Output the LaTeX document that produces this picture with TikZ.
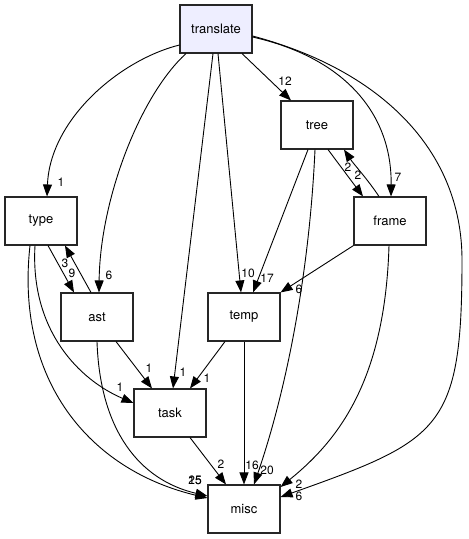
\documentclass[tikz,border=0pt]{standalone}
\usepackage{fontspec}
\setmainfont{TeX Gyre Heros}
\usetikzlibrary{arrows.meta,calc}
\definecolor{translatebg}{HTML}{EEEEFF}
\tikzset{
    dir/.style={draw=black!85,line width=1.1pt,minimum width=72pt,minimum height=48pt,inner sep=0pt,font=\fontsize{13}{15}\selectfont},
    dep/.style={line width=.9pt,-{Triangle[length=12pt,width=9pt]}},
    cnt/.style={inner sep=0pt,font=\fontsize{12}{14}\selectfont}
}
\begin{document}
\begin{tikzpicture}[x=1pt,y=-1pt]
    \useasboundingbox (0,0) rectangle (469,539);

    % directories
    \node[dir,fill=translatebg] (translate) at (216,29) {translate};
    \node[dir] (type) at (41,221) {type};
    \node[dir] (tree) at (317,125) {tree};
    \node[dir] (frame) at (390,221) {frame};
    \node[dir] (ast) at (97,317) {ast};
    \node[dir] (temp) at (244,317) {temp};
    \node[dir] (task) at (170,413) {task};
    \node[dir] (misc) at (244,509) {misc};

    % from translate
    \draw[dep] ($(translate.west)+(0,16)$) .. controls +(-60,15) and +(3,-77) .. ($(type.north)+(6,0)$);
    \draw[dep] ($(translate.south)+(-30,0)$) .. controls +(-46,42) and +(1,-93) .. ($(ast.north)+(2,0)$);
    \draw[dep] ($(translate.south)+(-3,0)$) -- ($(task.north)+(3,0)$);
    \draw[dep] ($(translate.south)+(2,0)$) -- ($(temp.north)+(-3,0)$);
    \draw[dep] ($(translate.south)+(26,0)$) -- ($(tree.north)+(-26,0)$);
    \draw[dep] ($(translate.east)+(0,8)$) .. controls +(93,21) and +(1,-82) .. ($(frame.north)+(1,0)$);
    \draw[dep] ($(translate.east)+(0,7)$) .. controls +(128,34) and +(0,-110) .. (462,260)
        .. controls +(0,170) and +(160,-57) .. ($(misc.east)+(0,-12)$);

    % from tree
    \draw[dep] ($(tree.south)+(-9,0)$) -- ($(temp.north)+(9,0)$);
    \draw[dep] ($(tree.south)+(-2,0)$) .. controls +(-5,111) and +(36,-105) .. ($(misc.north)+(10,0)$);
    \draw[dep] ($(tree.south)+(11,0)$) -- ($(frame.north)+(-27,0)$);

    % from frame
    \draw[dep] ($(frame.north)+(-11,0)$) .. controls +(-12,-18) and +(10,15) .. ($(tree.south)+(27,0)$);
    \draw[dep] (frame.south west) -- (temp.north east);
    \draw[dep] ($(frame.south)+(-1,0)$) .. controls +(-4,135) and +(58,-47) .. ($(misc.east)+(0,-22)$);

    % from type
    \draw[dep] ($(type.south)+(7,0)$) -- ($(ast.north)+(-23,0)$);
    \draw[dep] ($(type.south)+(-6,0)$) .. controls +(-5,85) and +(-54,-23) .. ($(task.west)+(0,-10)$);
    \draw[dep] ($(type.south)+(-11,0)$) .. controls +(-15,135) and +(-118,-28) .. ($(misc.west)+(0,-11)$);

    % from ast
    \draw[dep] ($(ast.north)+(-6,0)$) -- ($(type.south)+(24,0)$);
    \draw[dep] ($(ast.south)+(19,0)$) -- ($(task.north)+(-18,0)$);
    \draw[dep] (ast.south) .. controls +(3,89) and +(-68,-16) .. ($(misc.west)+(0,-13)$);

    % from temp and task
    \draw[dep] ($(temp.south)+(-19,0)$) -- ($(task.north)+(20,0)$);
    \draw[dep] (temp.south) -- (misc.north);
    \draw[dep] ($(task.south)+(20,0)$) -- ($(misc.north)+(-18,0)$);

    % counts
    \node[cnt] (c-type) at (61,182) {1};
    \node[cnt] (c-ast) at (109,275) {6};
    \node[cnt] (c-task) at (183,372) {1};
    \node[cnt] (c-temp) at (248,273) {10};
    \node[cnt] (c-tree) at (285,81) {12};
    \node[cnt] (c-frame) at (398,177) {7};
    \node[cnt] (c-tempb) at (267,278) {17};
    \node[cnt] (c-tempc) at (299,289) {6};
    \node[cnt] (c-treeb) at (348,167) {2};
    \node[cnt] (c-frameb) at (358,175) {2};
    \node[cnt] (c-typeb) at (65,263) {3};
    \node[cnt] (c-astb) at (72,273) {9};
    \node[cnt] (c-taskb) at (149,368) {1};
    \node[cnt] (c-taskc) at (207,378) {1};
    \node[cnt] (c-taskd) at (120,387) {1};
    \node[cnt] (c-misca) at (195,480) {15};
    \node[cnt] (c-miscb) at (195,480) {25};
    \node[cnt] (c-miscc) at (221,464) {2};
    \node[cnt] (c-miscd) at (252,465) {16};
    \node[cnt] (c-misce) at (267,470) {20};
    \node[cnt] (c-miscf) at (299,484) {2};
    \node[cnt] (c-miscg) at (299,496) {6};
\end{tikzpicture}
\end{document}
